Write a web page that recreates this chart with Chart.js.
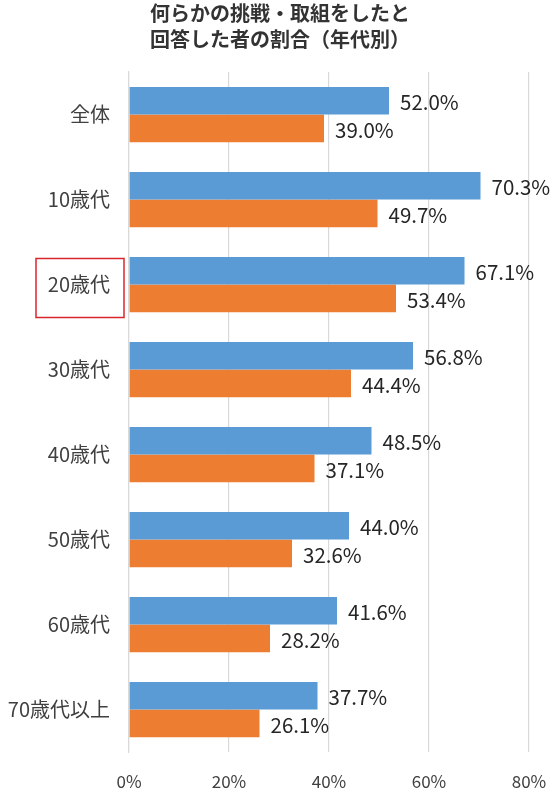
<!DOCTYPE html>
<html>
<head>
<meta charset="utf-8">
<script src="https://cdn.jsdelivr.net/npm/chart.js@4"></script>
<style>
  html, body { margin: 0; padding: 0; background: #fff; }
  #wrap { width: 560px; height: 800px; }
</style>
</head>
<body>
<div id="wrap"><canvas id="ageChart"></canvas></div>
<script>
// data
const ageGroups = ['全体', '10歳代', '20歳代', '30歳代', '40歳代', '50歳代', '60歳代', '70歳代以上'];
const seriesA = [52.0, 70.3, 67.1, 56.8, 48.5, 44.0, 41.6, 37.7];
const seriesB = [39.0, 49.7, 53.4, 44.4, 37.1, 32.6, 28.2, 26.1];
const xTicks = [0, 20, 40, 60, 80];
const titleLines = ['何らかの挑戦・取組をしたと', '回答した者の割合（年代別）'];
const highlightIndex = 2;

const fontFamily = "'Noto Sans CJK JP', 'Noto Sans', sans-serif";

// value labels at the end of each bar
const valueLabels = {
    id: 'valueLabels',
    afterDatasetsDraw(chart) {
        const ctx = chart.ctx;
        ctx.save();
        ctx.font = '20.5px ' + fontFamily;
        ctx.fillStyle = '#262626';
        ctx.textAlign = 'left';
        ctx.textBaseline = 'middle';
        chart.data.datasets.forEach((ds, i) => {
            chart.getDatasetMeta(i).data.forEach((bar, j) => {
                ctx.fillText(ds.data[j].toFixed(1) + '%', bar.x + 11, bar.y + 2);
            });
        });
        ctx.restore();
    }
};

// red frame round the highlighted category label
const highlightBox = {
    id: 'highlightBox',
    afterDraw(chart) {
        const y = chart.scales.y.getPixelForValue(highlightIndex);
        const ctx = chart.ctx;
        ctx.save();
        ctx.strokeStyle = '#d9262c';
        ctx.lineWidth = 1.5;
        ctx.strokeRect(36, y - 26, 88, 59);
        ctx.restore();
    }
};

new Chart(document.getElementById('ageChart'), {
    type: 'bar',
    data: {
        labels: ageGroups,
        datasets: [
            {
                label: '系列1',
                data: seriesA,
                backgroundColor: '#5b9bd5',
                categoryPercentage: 0.65,
                barPercentage: 1.0
            },
            {
                label: '系列2',
                data: seriesB,
                backgroundColor: '#ed7d31',
                categoryPercentage: 0.65,
                barPercentage: 1.0
            }
        ]
    },
    options: {
        indexAxis: 'y',
        responsive: true,
        maintainAspectRatio: false,
        animation: false,
        layout: { padding: 0 },
        plugins: {
            legend: { display: false },
            tooltip: { enabled: false },
            title: {
                display: true,
                text: titleLines,
                color: '#333333',
                font: { family: fontFamily, size: 20, weight: '600', lineHeight: 1.3 },
                padding: { top: 0, bottom: 20 }
            }
        },
        scales: {
            x: {
                min: 0,
                max: 80,
                afterBuildTicks(scale) {
                    scale.ticks = xTicks.map(v => ({ value: v }));
                },
                afterFit(scale) {
                    scale.height = 48;
                    scale.paddingLeft = 0;
                    scale.paddingRight = 31;
                },
                grid: { color: '#d9d9d9', lineWidth: 1.2, drawTicks: false },
                border: { display: false },
                ticks: {
                    padding: 19,
                    color: '#404040',
                    font: { family: fontFamily, size: 17 },
                    callback: v => v + '%'
                }
            },
            y: {
                afterFit(scale) { scale.width = 129; },
                grid: { display: false, drawTicks: false },
                border: { display: true, color: '#d9d9d9', width: 1.2 },
                ticks: {
                    padding: 19,
                    color: '#404040',
                    font: { family: fontFamily, size: 20 }
                }
            }
        }
    },
    plugins: [valueLabels, highlightBox]
});
</script>
</body>
</html>
